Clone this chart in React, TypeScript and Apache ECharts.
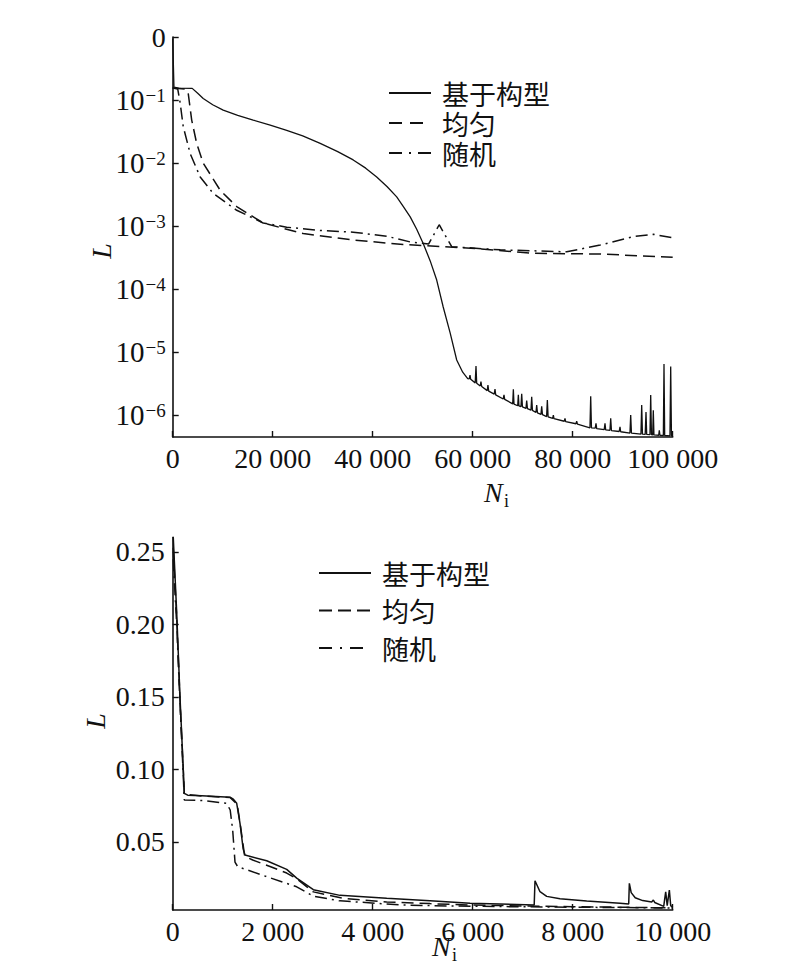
import React, { useEffect, useRef } from 'react';
import * as echarts from 'echarts';

const seriesNames = ['基于构型', '均匀', '随机'];

const topXTicks = { min: 0, max: 100000, step: 20000 };
const topYTicks = [1e-6, 1e-5, 1e-4, 1e-3, 1e-2, 1e-1, 1];
const topYRange = [4.5e-7, 1];
const bottomXTicks = { min: 0, max: 10000, step: 2000 };
const bottomYTicks = [0.05, 0.1, 0.15, 0.2, 0.25];
const bottomYRange = [0.003, 0.26];

// top chart: 基于构型 (solid)
const topConfig: [number, number][] = [
  [0, 0.95], [250, 0.16], [1200, 0.155], [3900, 0.153], [5000, 0.128], [6100, 0.106],
  [8000, 0.084], [10100, 0.069], [13000, 0.057], [16100, 0.048], [19500, 0.04],
  [22800, 0.033], [26000, 0.027], [29500, 0.0205], [33000, 0.0152], [36100, 0.0112],
  [38600, 0.0083], [40800, 0.006], [42900, 0.0042], [44800, 0.0029], [46200, 0.002],
  [47500, 0.0014], [48800, 8.9e-4], [50100, 5.3e-4], [51500, 2.8e-4], [52800, 1.39e-4],
  [54100, 5.2e-5], [55500, 2.0e-5], [56800, 7.5e-6], [58000, 4.8e-6], [59000, 3.8e-6],
  [59300, 3.75e-6], [59460, 4.3e-6], [59600, 3.7e-6],
  [60500, 3.25e-6], [60660, 6.0e-6], [60800, 3.2e-6],
  [61500, 2.9e-6], [61650, 3.4e-6], [61800, 2.85e-6],
  [62900, 2.45e-6], [63050, 3.0e-6], [63200, 2.4e-6],
  [64300, 2.15e-6], [64460, 2.6e-6], [64600, 2.1e-6],
  [66100, 1.8e-6], [66260, 2.1e-6], [66400, 1.78e-6],
  [68000, 1.51e-6], [68130, 2.57e-6], [68260, 1.5e-6],
  [69000, 1.41e-6], [69130, 2.1e-6], [69250, 1.4e-6],
  [69650, 1.36e-6], [69800, 2.19e-6], [69950, 1.35e-6],
  [70650, 1.28e-6], [70800, 1.7e-6], [70950, 1.27e-6],
  [71650, 1.2e-6], [71800, 1.95e-6], [71950, 1.19e-6],
  [72650, 1.1e-6], [72800, 1.45e-6], [72950, 1.09e-6],
  [73650, 1.03e-6], [73800, 1.38e-6], [73950, 1.02e-6],
  [74780, 9.5e-7], [74930, 1.74e-6], [75080, 9.4e-7],
  [76000, 8.9e-7], [76130, 1.0e-6], [76260, 8.8e-7],
  [78300, 8.0e-7], [78460, 8.9e-7], [78600, 7.9e-7],
  [80650, 7.3e-7], [80800, 8.0e-7], [80950, 7.2e-7],
  [83450, 6.3e-7], [83600, 2.0e-6], [83750, 6.3e-7],
  [84500, 6.2e-7], [84660, 7.4e-7], [84800, 6.1e-7],
  [86300, 5.9e-7], [86460, 7.4e-7], [86600, 5.85e-7],
  [87450, 5.75e-7], [87600, 8.9e-7], [87750, 5.7e-7],
  [89300, 5.5e-7], [89460, 6.5e-7], [89600, 5.45e-7],
  [91450, 5.2e-7], [91600, 1.0e-6], [91750, 5.2e-7],
  [93650, 5.0e-7], [93800, 1.45e-6], [93950, 5.0e-7],
  [94500, 4.95e-7], [94660, 1.12e-6], [94800, 4.95e-7],
  [95450, 4.9e-7], [95600, 2.09e-6], [95750, 4.9e-7],
  [96000, 4.85e-7], [96120, 1.2e-6], [96250, 4.85e-7],
  [97200, 4.8e-7], [97320, 5.75e-7], [97450, 4.8e-7],
  [98130, 4.75e-7], [98260, 6.46e-6], [98400, 4.75e-7],
  [99450, 4.7e-7], [99600, 5.9e-6], [99750, 4.7e-7],
  [100000, 4.7e-7],
];

// top chart: 均匀 (dashed)
const topUniform: [number, number][] = [
  [0, 0.155], [2500, 0.15], [3100, 0.128], [3800, 0.048], [4800, 0.0204], [6100, 0.01],
  [9500, 0.0037], [12800, 0.00204], [18100, 0.00112], [26100, 7.6e-4], [36100, 6.0e-4],
  [46100, 5.1e-4], [58800, 4.5e-4], [72100, 3.7e-4], [85500, 3.6e-4], [100000, 3.2e-4],
];

// top chart: 随机 (dash-dot)
const topRandom: [number, number][] = [
  [0, 0.155], [1000, 0.15], [1500, 0.089], [2100, 0.038], [3500, 0.0141], [5500, 0.006],
  [8100, 0.0033], [12800, 0.00178], [18100, 0.00112], [22800, 9.6e-4], [29500, 8.5e-4],
  [36100, 8.0e-4], [42800, 6.9e-4], [47500, 5.6e-4], [51200, 5.2e-4], [53300, 1.05e-3],
  [55800, 4.7e-4], [65500, 4.2e-4], [78800, 3.9e-4], [85500, 5.0e-4], [92100, 6.8e-4],
  [96100, 7.4e-4], [100000, 6.5e-4],
];

// bottom chart: 基于构型 (solid)
const bottomConfig: [number, number][] = [
  [10, 0.261], [80, 0.208], [146, 0.15], [212, 0.0996], [232, 0.0835], [300, 0.0822],
  [580, 0.0819], [1146, 0.0808], [1213, 0.0795], [1280, 0.0766], [1346, 0.0628],
  [1410, 0.045], [1446, 0.0409], [1880, 0.037], [2280, 0.031], [2480, 0.025],
  [2813, 0.017], [3346, 0.0131], [4280, 0.0111], [5146, 0.0094], [5946, 0.0077],
  [7230, 0.0065], [7246, 0.0232], [7346, 0.0156], [7480, 0.0124], [7746, 0.0108],
  [8280, 0.0092], [8946, 0.0077], [9120, 0.0072], [9133, 0.0214], [9170, 0.015],
  [9250, 0.0115], [9400, 0.0095], [9580, 0.0086], [9613, 0.0099], [9640, 0.0082],
  [9820, 0.0055], [9860, 0.0156], [9890, 0.006], [9933, 0.0168], [9960, 0.006],
  [10000, 0.0048],
];

// bottom chart: 均匀 (dashed)
const bottomUniform: [number, number][] = [
  [10, 0.253], [80, 0.205], [146, 0.148], [212, 0.099], [232, 0.083], [580, 0.0817],
  [1146, 0.0806], [1290, 0.076], [1360, 0.06], [1440, 0.04], [1600, 0.0375],
  [1946, 0.033], [2280, 0.0285], [2480, 0.0245], [2813, 0.0155], [3413, 0.011],
  [4280, 0.0086], [5146, 0.0074], [6000, 0.0064], [7000, 0.0058], [8000, 0.0053],
  [9000, 0.0049], [10000, 0.0044],
];

// bottom chart: 随机 (dash-dot)
const bottomRandom: [number, number][] = [
  [10, 0.245], [80, 0.2], [146, 0.145], [212, 0.095], [232, 0.0789], [600, 0.0785],
  [1080, 0.0766], [1150, 0.072], [1200, 0.058], [1246, 0.036], [1300, 0.0329],
  [1880, 0.026], [2480, 0.019], [2813, 0.0125], [3346, 0.0093], [4613, 0.0064],
  [5500, 0.0058], [7000, 0.0052], [8500, 0.0048], [10000, 0.0044],
];

const SERIF = 'Liberation Serif';
const CJK = 'Noto Sans CJK SC';
const BLACK = '#111';

const dashed = [12, 6];
const dashDot = [12, 5, 2, 5];

function groupThousands(v: number): string {
  return String(v).replace(/\B(?=(\d{3})+(?!\d))/g, ' ');
}

function logLabel(v: number): string {
  const l = Math.log10(v);
  const e = Math.round(l);
  if (Math.abs(l - e) > 1e-6) return '';
  if (e === 0) return '0';
  return `{b|10}{s|\u2212${-e}}`;
}

function buildOption() {
  const axisLine = { show: true, lineStyle: { color: BLACK, width: 1.6 } };
  const axisTick = { show: true, inside: true, length: 6, lineStyle: { color: BLACK, width: 1.4 } };
  const labelBase = { color: BLACK, fontFamily: SERIF, fontSize: 28 };

  const xAxisCommon = (t: { min: number; max: number; step: number }, gridIndex: number) => ({
    type: 'value',
    gridIndex,
    min: t.min,
    max: t.max,
    interval: t.step,
    axisLine,
    axisTick,
    splitLine: { show: false },
    axisLabel: { ...labelBase, margin: 7, formatter: (v: number) => groupThousands(v) },
  });

  const lineSeries = (name: string, data: [number, number][], idx: number, type: any, width = 1.5) => ({
    type: 'line',
    name,
    data,
    xAxisIndex: idx,
    yAxisIndex: idx,
    showSymbol: false,
    symbol: 'none',
    lineStyle: { color: BLACK, width, type },
    itemStyle: { color: BLACK },
    z: 3,
  });

  const legendText = { color: BLACK, fontFamily: CJK, fontSize: 27, lineHeight: 27, padding: [0, 0, 0, 6] };
  const legendItemStyle = { opacity: 0, borderWidth: 0 };

  return {
    animation: false,
    backgroundColor: '#fff',
    grid: [
      { left: 172.7, top: 37, width: 500, height: 400, containLabel: false },
      { left: 172.7, top: 537.5, width: 500, height: 372.5, containLabel: false },
    ],
    xAxis: [xAxisCommon(topXTicks, 0), xAxisCommon(bottomXTicks, 1)],
    yAxis: [
      {
        type: 'log',
        logBase: 10,
        gridIndex: 0,
        min: topYRange[0],
        max: topYRange[1],
        axisLine,
        axisTick: { ...axisTick, customValues: topYTicks },
        splitLine: { show: false },
        axisLabel: {
          ...labelBase,
          margin: 7,
          customValues: topYTicks,
          formatter: logLabel,
          rich: {
            b: { fontFamily: SERIF, fontSize: 29, color: BLACK },
            s: { fontFamily: SERIF, fontSize: 19, color: BLACK, verticalAlign: 'top', padding: [0, 0, 0, 1] },
          },
        },
      },
      {
        type: 'value',
        gridIndex: 1,
        min: bottomYRange[0],
        max: bottomYRange[1],
        axisLine,
        axisTick: { ...axisTick, customValues: bottomYTicks },
        splitLine: { show: false },
        axisLabel: {
          ...labelBase,
          margin: 8,
          customValues: bottomYTicks,
          formatter: (v: number) => v.toFixed(2),
        },
      },
    ],
    legend: [
      {
        orient: 'vertical',
        left: 388,
        top: 79.5,
        padding: 0,
        itemWidth: 42,
        itemHeight: 14,
        itemGap: 3,
        selectedMode: false,
        itemStyle: legendItemStyle,
        textStyle: legendText,
        data: [
          { name: seriesNames[0] },
          { name: seriesNames[1], lineStyle: { type: [13, 8] } },
          { name: seriesNames[2], lineStyle: { type: [13, 7, 2, 7] } },
        ],
      },
      {
        orient: 'vertical',
        left: 318,
        top: 559.5,
        padding: 0,
        itemWidth: 52,
        itemHeight: 14,
        itemGap: 10.5,
        selectedMode: false,
        itemStyle: legendItemStyle,
        textStyle: legendText,
        data: [
          { name: seriesNames[0] },
          { name: seriesNames[1], lineStyle: { type: [13, 6] } },
          { name: seriesNames[2], lineStyle: { type: [13, 8, 2, 8] } },
        ],
      },
    ],
    graphic: [
      {
        type: 'text', x: 101, y: 251, rotation: Math.PI / 2,
        style: { text: 'L', fill: BLACK, font: `italic 28px "${SERIF}"`, align: 'center', verticalAlign: 'middle' },
      },
      {
        type: 'text', x: 95, y: 721, rotation: Math.PI / 2,
        style: { text: 'L', fill: BLACK, font: `italic 28px "${SERIF}"`, align: 'center', verticalAlign: 'middle' },
      },
      {
        type: 'text', x: 484, y: 492,
        style: { text: 'N', fill: BLACK, font: `italic 28px "${SERIF}"`, align: 'left', verticalAlign: 'middle' },
      },
      {
        type: 'text', x: 504, y: 501,
        style: { text: 'i', fill: BLACK, font: `18px "${SERIF}"`, align: 'left', verticalAlign: 'middle' },
      },
      {
        type: 'text', x: 432, y: 946,
        style: { text: 'N', fill: BLACK, font: `italic 28px "${SERIF}"`, align: 'left', verticalAlign: 'middle' },
      },
      {
        type: 'text', x: 452, y: 955,
        style: { text: 'i', fill: BLACK, font: `18px "${SERIF}"`, align: 'left', verticalAlign: 'middle' },
      },
    ],
    series: [
      lineSeries(seriesNames[0], topConfig, 0, 'solid', 1.3),
      lineSeries(seriesNames[1], topUniform, 0, dashed),
      lineSeries(seriesNames[2], topRandom, 0, dashDot),
      lineSeries(seriesNames[0], bottomConfig, 1, 'solid'),
      lineSeries(seriesNames[1], bottomUniform, 1, dashed),
      lineSeries(seriesNames[2], bottomRandom, 1, dashDot),
    ],
  };
}

export default function App() {
  const ref = useRef<HTMLDivElement>(null);
  useEffect(() => {
    if (!ref.current) return;
    const chart = echarts.init(ref.current, null, { renderer: 'svg' });
    chart.setOption(buildOption() as any);
    return () => chart.dispose();
  }, []);
  return (
    <div
      ref={ref}
      style={{ position: 'absolute', left: 0, top: 0, width: 800, height: 968, background: '#fff' }}
    />
  );
}
